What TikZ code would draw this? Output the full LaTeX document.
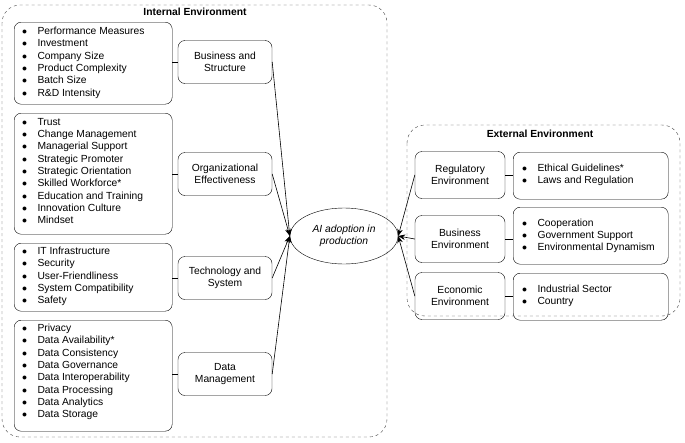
\documentclass[tikz,border=0pt]{standalone}
\usepackage{fontspec}
\setmainfont{Liberation Sans}
\usetikzlibrary{arrows.meta}
\usetikzlibrary{positioning}
\usetikzlibrary{shapes.geometric}
\begin{document}
\begin{tikzpicture}[x=1pt,y=-1pt,font=\fontsize{10.3}{12.3}\selectfont]
  \tikzset{
    env/.style={draw,dashed,gray!50!black,rounded corners=18pt},
    lst/.style={draw,rounded corners=7pt,align=left,anchor=north west,inner sep=0pt},
    cat/.style={draw,rounded corners=7pt,align=center,minimum width=94pt,minimum height=43pt,inner sep=1pt},
    arr/.style={-{Stealth[length=7pt,width=5.5pt]},line width=0.6pt}
  }
    \useasboundingbox (0,0) rectangle (685,442);
    %ENVIRONMENTS
    \draw[env] (2,5) rectangle (387,437);
    \draw[env] (407,125) rectangle (680,316);
    \node[font=\bfseries\fontsize{10.3}{12}\selectfont] (tin) at (195,12) {Internal Environment};
    \node[font=\bfseries\fontsize{10.3}{12}\selectfont] (tex) at (540,134) {External Environment};

    %CENTER
    \node[ellipse,draw,minimum width=108pt,minimum height=56pt,align=center,font=\itshape\fontsize{10.3}{12.5}\selectfont] (ai) at (344,236) {AI adoption in\\production};

    %INTERNAL
    \node[lst,minimum width=158pt,minimum height=82pt] (l1) at (14,22) {};
    \node[anchor=north west,align=left,inner sep=0pt] at (22,27) {$\bullet$\quad Performance Measures\\$\bullet$\quad Investment\\$\bullet$\quad Company Size\\$\bullet$\quad Product Complexity\\$\bullet$\quad Batch Size\\$\bullet$\quad R\&D Intensity};
    \node[lst,minimum width=158pt,minimum height=121pt] (l2) at (14,113) {};
    \node[anchor=north west,align=left,inner sep=0pt] at (22,118) {$\bullet$\quad Trust\\$\bullet$\quad Change Management\\$\bullet$\quad Managerial Support\\$\bullet$\quad Strategic Promoter\\$\bullet$\quad Strategic Orientation\\$\bullet$\quad Skilled Workforce*\\$\bullet$\quad Education and Training\\$\bullet$\quad Innovation Culture\\$\bullet$\quad Mindset};
    \node[lst,minimum width=158pt,minimum height=68pt] (l3) at (14,243) {};
    \node[anchor=north west,align=left,inner sep=0pt] at (22,247) {$\bullet$\quad IT Infrastructure\\$\bullet$\quad Security\\$\bullet$\quad User-Friendliness\\$\bullet$\quad System Compatibility\\$\bullet$\quad Safety};
    \node[lst,minimum width=158pt,minimum height=111pt] (l4) at (14,320) {};
    \node[anchor=north west,align=left,inner sep=0pt] at (22,324) {$\bullet$\quad Privacy\\$\bullet$\quad Data Availability*\\$\bullet$\quad Data Consistency\\$\bullet$\quad Data Governance\\$\bullet$\quad Data Interoperability\\$\bullet$\quad Data Processing\\$\bullet$\quad Data Analytics\\$\bullet$\quad Data Storage};

    \node[cat] (c1) at (225,62) {Business and\\Structure};
    \node[cat] (c2) at (225,174) {Organizational\\Effectiveness};
    \node[cat] (c3) at (225,278) {Technology and\\System};
    \node[cat] (c4) at (225,374) {Data\\Management};

    %EXTERNAL
    \node[cat,minimum width=90pt,minimum height=47pt] (e1) at (460,175) {Regulatory\\Environment};
    \node[cat,minimum width=90pt,minimum height=47pt] (e2) at (460,239) {Business\\Environment};
    \node[cat,minimum width=90pt,minimum height=47pt] (e3) at (460,296) {Economic\\Environment};
    \node[lst,minimum width=155pt,minimum height=47pt] (r1) at (513,152) {};
    \node[anchor=west,align=left,inner sep=0pt] at (522,175) {$\bullet$\quad Ethical Guidelines*\\$\bullet$\quad Laws and Regulation};
    \node[lst,minimum width=155pt,minimum height=57pt] (r2) at (513,207) {};
    \node[anchor=west,align=left,inner sep=0pt] at (522,236) {$\bullet$\quad Cooperation\\$\bullet$\quad Government Support\\$\bullet$\quad Environmental Dynamism};
    \node[lst,minimum width=155pt,minimum height=47pt] (r3) at (513,273) {};
    \node[anchor=west,align=left,inner sep=0pt] at (522,296) {$\bullet$\quad Industrial Sector\\$\bullet$\quad Country};

    %LINKS
    \foreach \a/\b in {l1/c1,l2/c2,l3/c3,l4/c4} {
      \draw (\b.west) -- (\b.west -| \a.east) ;
    }
    \foreach \a/\b in {e1/r1,e2/r2,e3/r3} {
      \draw (\a.east) -- (\a.east -| \b.west) ;
    }
    \foreach \c in {c1,c2,c3,c4} {
      \draw[arr] (\c.east) -- (ai.west) ;
    }
    \foreach \e in {e1,e2,e3} {
      \draw[arr] (\e.west) -- (ai.east) ;
    }
  \end{tikzpicture}
\end{document}
